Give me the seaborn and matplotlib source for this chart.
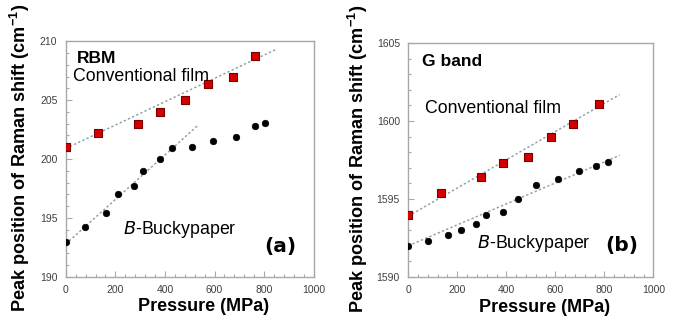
import numpy as np
import pandas as pd
import matplotlib
matplotlib.use("Agg")
import matplotlib.pyplot as plt
from matplotlib.ticker import MultipleLocator
import seaborn as sns

# --- data ---
# (a) RBM
rbm_film_p = [0, 130, 293, 379, 479, 573, 675, 762]
rbm_film_w = [201.0, 202.2, 203.0, 204.0, 205.0, 206.4, 207.0, 208.7]
rbm_bucky_p = [0, 79, 161, 211, 274, 311, 379, 430, 510, 595, 686, 764, 802]
rbm_bucky_w = [193.0, 194.2, 195.4, 197.0, 197.7, 199.0, 200.0, 200.9, 201.0, 201.5, 201.9, 202.8, 203.1]
rbm_film_fit_p = [0, 848]
rbm_film_fit_w = [200.9, 209.3]
rbm_bucky_fit_p = [0, 530]
rbm_bucky_fit_w = [192.8, 202.8]

# (b) G band
g_film_p = [0, 132, 295, 387, 487, 581, 672, 778]
g_film_w = [1594.0, 1595.4, 1596.4, 1597.3, 1597.7, 1599.0, 1599.8, 1601.1]
g_bucky_p = [0, 82, 161, 215, 276, 316, 388, 448, 520, 612, 695, 767, 816]
g_bucky_w = [1592.0, 1592.3, 1592.7, 1593.0, 1593.4, 1594.0, 1594.2, 1595.0, 1595.9, 1596.3, 1596.8, 1597.1, 1597.4]
g_film_fit_p = [0, 862]
g_film_fit_w = [1593.9, 1601.7]
g_bucky_fit_p = [0, 862]
g_bucky_fit_w = [1592.0, 1597.8]

sns.set_style("ticks")
plt.rcParams['font.family'] = ['Liberation Sans', 'DejaVu Sans']
plt.rcParams['mathtext.fontset'] = 'custom'
plt.rcParams['mathtext.bf'] = 'Liberation Sans:bold'
plt.rcParams['mathtext.rm'] = 'Liberation Sans'
plt.rcParams['text.color'] = 'black'
plt.rcParams['axes.labelcolor'] = 'black'

FIT_COLOR = '#8fa3aa'
SPINE = '#a8a8a8'
TICKTXT = '#404040'

fig = plt.figure(figsize=(6.85, 3.29), dpi=100)
ax_a = fig.add_axes([0.096, 0.158, 0.362, 0.717])
ax_b = fig.add_axes([0.596, 0.158, 0.358, 0.711])


def draw_panel(ax, film_p, film_w, bucky_p, bucky_w, ffit_p, ffit_w, bfit_p, bfit_w):
    sns.lineplot(x=ffit_p, y=ffit_w, ax=ax, color=FIT_COLOR, linestyle=(0, (1.5, 1.5)), lw=1.1)
    sns.lineplot(x=bfit_p, y=bfit_w, ax=ax, color=FIT_COLOR, linestyle=(0, (1.5, 1.5)), lw=1.1)
    sns.scatterplot(x=film_p, y=film_w, ax=ax, marker='s', s=30, color='#d40000',
                    edgecolor='#7a0000', linewidth=0.8, zorder=3)
    sns.scatterplot(x=bucky_p, y=bucky_w, ax=ax, marker='o', s=22, color='black',
                    edgecolor='black', linewidth=0.5, zorder=3)
    ax.set_xlim(0, 1000)
    ax.xaxis.set_major_locator(MultipleLocator(200))
    ax.xaxis.set_minor_locator(MultipleLocator(40))
    ax.yaxis.set_major_locator(MultipleLocator(5))
    ax.yaxis.set_minor_locator(MultipleLocator(1))
    ax.tick_params(which='both', direction='in', colors=SPINE, labelcolor=TICKTXT,
                   labelsize=7.5, width=0.8)
    ax.tick_params(which='major', length=4, pad=6)
    ax.tick_params(which='minor', length=2)
    for sp in ax.spines.values():
        sp.set_color(SPINE)
        sp.set_linewidth(1.0)
    ax.set_xlabel('Pressure (MPa)', fontsize=13, fontweight='bold')
    ax.set_ylabel(r'Peak position of Raman shift (cm$^{\mathbf{-1}}$)', fontsize=13.1,
                  fontweight='bold')


draw_panel(ax_a, rbm_film_p, rbm_film_w, rbm_bucky_p, rbm_bucky_w,
           rbm_film_fit_p, rbm_film_fit_w, rbm_bucky_fit_p, rbm_bucky_fit_w)
ax_a.set_ylim(190, 210)
ax_a.xaxis.set_label_coords(0.557, -0.088)
ax_a.yaxis.set_label_coords(-0.135, 0.505)
ax_a.text(44, 208.17, 'RBM', fontsize=12.5, fontweight='bold')
ax_a.text(30, 206.64, 'Conventional film', fontsize=12.8)
ax_a.text(231, 193.68, r'$\it{B}$-Buckypaper', fontsize=12.8)
# panel letters are heavier than the Liberation bold, DejaVu bold is closer
ax_a.text(801, 192.62, '(a)', fontsize=14.5, fontweight='bold', va='center',
          family='DejaVu Sans')

draw_panel(ax_b, g_film_p, g_film_w, g_bucky_p, g_bucky_w,
           g_film_fit_p, g_film_fit_w, g_bucky_fit_p, g_bucky_fit_w)
ax_b.set_ylim(1590, 1605)
ax_b.xaxis.set_label_coords(0.555, -0.095)
ax_b.yaxis.set_label_coords(-0.155, 0.505)
ax_b.text(55, 1603.54, 'G band', fontsize=12.5, fontweight='bold')
ax_b.text(68, 1600.5, 'Conventional film', fontsize=12.8)
ax_b.text(282, 1591.83, r'$\it{B}$-Buckypaper', fontsize=12.8)
ax_b.text(803, 1591.99, '(b)', fontsize=14.5, fontweight='bold', va='center',
          family='DejaVu Sans')

fig.savefig('out.png', dpi=100)
